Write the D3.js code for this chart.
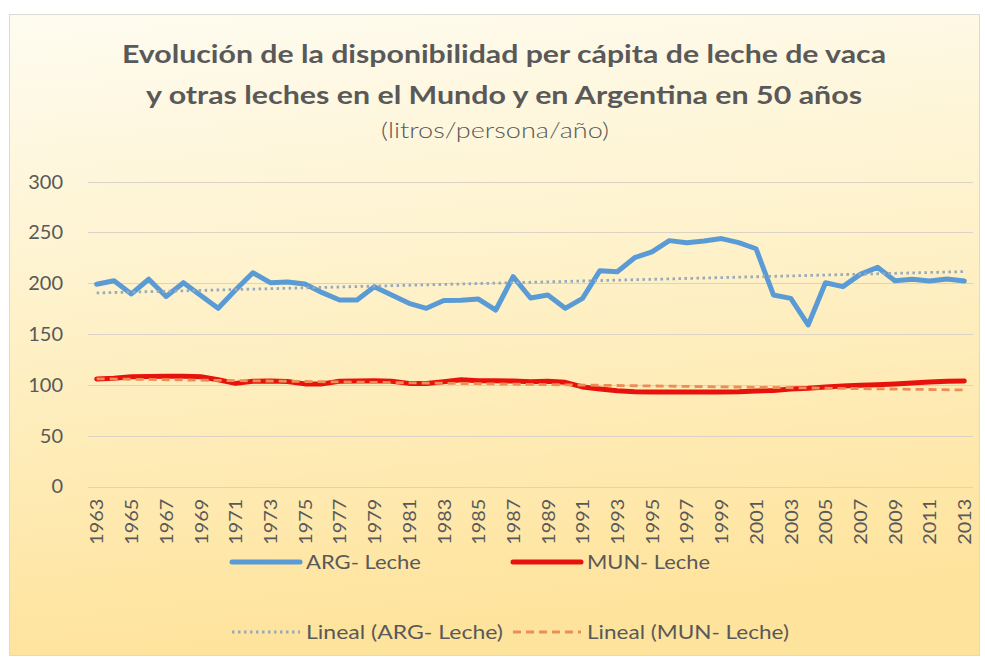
<!DOCTYPE html>
<html>
<head>
<meta charset="utf-8">
<script src="https://cdn.jsdelivr.net/npm/d3@7"></script>
<style>
  body { margin: 0; background: #fff; }
  svg text { font-family: Lato, "Open Sans", sans-serif; fill: #595959; }
</style>
</head>
<body>
<div class="chart"></div>
<script>
var svgWidth = 985;
var svgHeight = 662;

// data
var years = d3.range(1963, 2014).map(String);
var tickYears = years.filter(function(y, i) { return i % 2 == 0; });
var yTicks = [0, 50, 100, 150, 200, 250, 300];

var argLeche = [199, 202.5, 189.5, 204, 187, 200.6, 188, 175.4, 193.4, 210.4,
  200.6, 201.3, 199.3, 190.8, 183.6, 183.6, 196.7, 188.5, 180.3, 175.4,
  183, 183.3, 184.5, 173.7, 206.5, 185.5, 188.5, 175.4, 185.2, 212.4,
  211.4, 225.2, 231, 242, 240, 241.6, 244, 240, 234, 188.5,
  185.2, 159, 200.6, 196.7, 208.8, 215.7, 202.6, 204, 202.3, 204.2, 202.3];

var munLeche = [105.8, 106.5, 108, 108.3, 108.4, 108.5, 108, 105, 101.5, 103.5,
  103.8, 103.3, 101, 101, 103.5, 103.8, 104, 103.5, 101.5, 101.3,
  103, 105, 104, 104, 103.8, 103, 103.5, 102.5, 98, 96,
  94.3, 93.3, 93, 93, 93, 93, 93, 93.3, 94, 94.6,
  96, 96.6, 98, 99, 99.6, 100.2, 100.9, 101.9, 102.9, 103.5, 103.9];

// trend lines (start / end values as drawn)
var argTrend = [190.5, 211.5];
var munTrend = [106, 95];

var titleLines = ["Evolución de la disponibilidad per cápita de leche de vaca",
  "y otras leches en el Mundo y en Argentina en 50 años"];
var subTitle = "(litros/persona/año)";

var svg = d3.select(".chart")
  .append("svg")
  .attr("width", svgWidth)
  .attr("height", svgHeight);

// background gradient
var defs = svg.append("defs");
var grad = defs.append("linearGradient")
  .attr("id", "bg")
  .attr("x1", 0).attr("y1", 0)
  .attr("x2", 0.15).attr("y2", 1);
grad.append("stop").attr("offset", "0%").attr("stop-color", "#fefcf1");
grad.append("stop").attr("offset", "45%").attr("stop-color", "#fef2cb");
grad.append("stop").attr("offset", "100%").attr("stop-color", "#fee39c");

svg.append("rect")
  .attr("x", 9.5).attr("y", 14.5)
  .attr("width", 970).attr("height", 641)
  .attr("fill", "url(#bg)")
  .attr("stroke", "#dcdad2");

// scales
var x = d3.scalePoint()
  .domain(years)
  .range([88, 973])
  .padding(0.5);

var y = d3.scaleLinear()
  .domain([0, 300])
  .range([486.5, 181.7]);

// gridlines
svg.append("g")
  .selectAll("line")
  .data(yTicks)
  .enter()
  .append("line")
  .attr("x1", 88).attr("x2", 973)
  .attr("y1", d => Math.round(y(d)) + 0.5)
  .attr("y2", d => Math.round(y(d)) + 0.5)
  .attr("stroke", "#dcd3c6")
  .attr("stroke-width", 1.2);

// y axis labels
var leftAxis = d3.axisLeft(y).tickValues(yTicks).tickSize(0).tickPadding(0);
var gy = svg.append("g")
  .attr("transform", "translate(63,0)")
  .call(leftAxis);
gy.select(".domain").remove();
gy.selectAll("text")
  .style("font-size", "20px")
  .attr("fill", "#595959");

// x axis labels
var bottomAxis = d3.axisBottom(x).tickValues(tickYears).tickSize(0);
var gx = svg.append("g")
  .attr("transform", "translate(0,497)")
  .call(bottomAxis);
gx.select(".domain").remove();
gx.selectAll("text")
  .attr("transform", "rotate(-90)")
  .attr("x", 0)
  .attr("y", 0)
  .attr("dx", "-0.1em")
  .attr("dy", "0.35em")
  .attr("textLength", 46)
  .attr("lengthAdjust", "spacingAndGlyphs")
  .style("text-anchor", "end")
  .style("font-size", "18px")
  .attr("fill", "#666");

// series
var line = d3.line()
  .x((d, i) => x(years[i]))
  .y(d => y(d));

svg.append("path")
  .attr("d", line(argLeche))
  .attr("fill", "none")
  .attr("stroke", "#5b9bd5")
  .attr("stroke-width", 5)
  .attr("stroke-linejoin", "round")
  .attr("stroke-linecap", "round");

svg.append("path")
  .attr("d", line(munLeche))
  .attr("fill", "none")
  .attr("stroke", "#e8120c")
  .attr("stroke-width", 5)
  .attr("stroke-linejoin", "round")
  .attr("stroke-linecap", "round");

// trendlines on top
var first = years[0], last = years[years.length - 1];
svg.append("line")
  .attr("x1", x(first)).attr("x2", x(last))
  .attr("y1", y(argTrend[0])).attr("y2", y(argTrend[1]))
  .attr("stroke", "#98a9b9")
  .attr("stroke-width", 2.8)
  .attr("stroke-dasharray", "2.5,3.5");

svg.append("line")
  .attr("x1", x(first)).attr("x2", x(last))
  .attr("y1", y(munTrend[0])).attr("y2", y(munTrend[1]))
  .attr("stroke", "#ec8d55")
  .attr("stroke-width", 2.8)
  .attr("stroke-dasharray", "8,5");

// title
svg.append("text")
  .attr("x", 504).attr("y", 63)
  .attr("text-anchor", "middle")
  .attr("textLength", 764)
  .attr("lengthAdjust", "spacingAndGlyphs")
  .style("font-size", "25px")
  .style("font-weight", "bold")
  .text(titleLines[0]);

svg.append("text")
  .attr("x", 504).attr("y", 104)
  .attr("text-anchor", "middle")
  .attr("textLength", 716)
  .attr("lengthAdjust", "spacingAndGlyphs")
  .style("font-size", "25px")
  .style("font-weight", "bold")
  .text(titleLines[1]);

svg.append("text")
  .attr("x", 495).attr("y", 138)
  .attr("text-anchor", "middle")
  .attr("textLength", 228)
  .attr("lengthAdjust", "spacingAndGlyphs")
  .style("font-size", "22px")
  .style("font-weight", 300)
  .text(subTitle);

// legend
var legendItems = [
  { label: "ARG- Leche", x: 232, y: 562, color: "#5b9bd5", w: 5, dash: null, tl: 115 },
  { label: "MUN- Leche", x: 513, y: 562, color: "#e8120c", w: 5, dash: null, tl: 123 },
  { label: "Lineal (ARG- Leche)", x: 232, y: 632, color: "#98a9b9", w: 2.8, dash: "2.5,3.5", tl: 197 },
  { label: "Lineal (MUN- Leche)", x: 513, y: 632, color: "#ec8d55", w: 2.8, dash: "8,5", tl: 202 }
];

var legend = svg.append("g")
  .selectAll("g")
  .data(legendItems)
  .enter()
  .append("g");

legend.append("line")
  .attr("x1", d => d.x).attr("x2", d => d.x + 68)
  .attr("y1", d => d.y).attr("y2", d => d.y)
  .attr("stroke", d => d.color)
  .attr("stroke-width", d => d.w)
  .attr("stroke-linecap", d => d.dash ? "butt" : "round")
  .attr("stroke-dasharray", d => d.dash);

legend.append("text")
  .attr("x", d => d.x + 74)
  .attr("y", d => d.y)
  .attr("dy", "0.35em")
  .attr("textLength", d => d.tl)
  .attr("lengthAdjust", "spacingAndGlyphs")
  .style("font-size", "20px")
  .text(d => d.label);
</script>
</body>
</html>
